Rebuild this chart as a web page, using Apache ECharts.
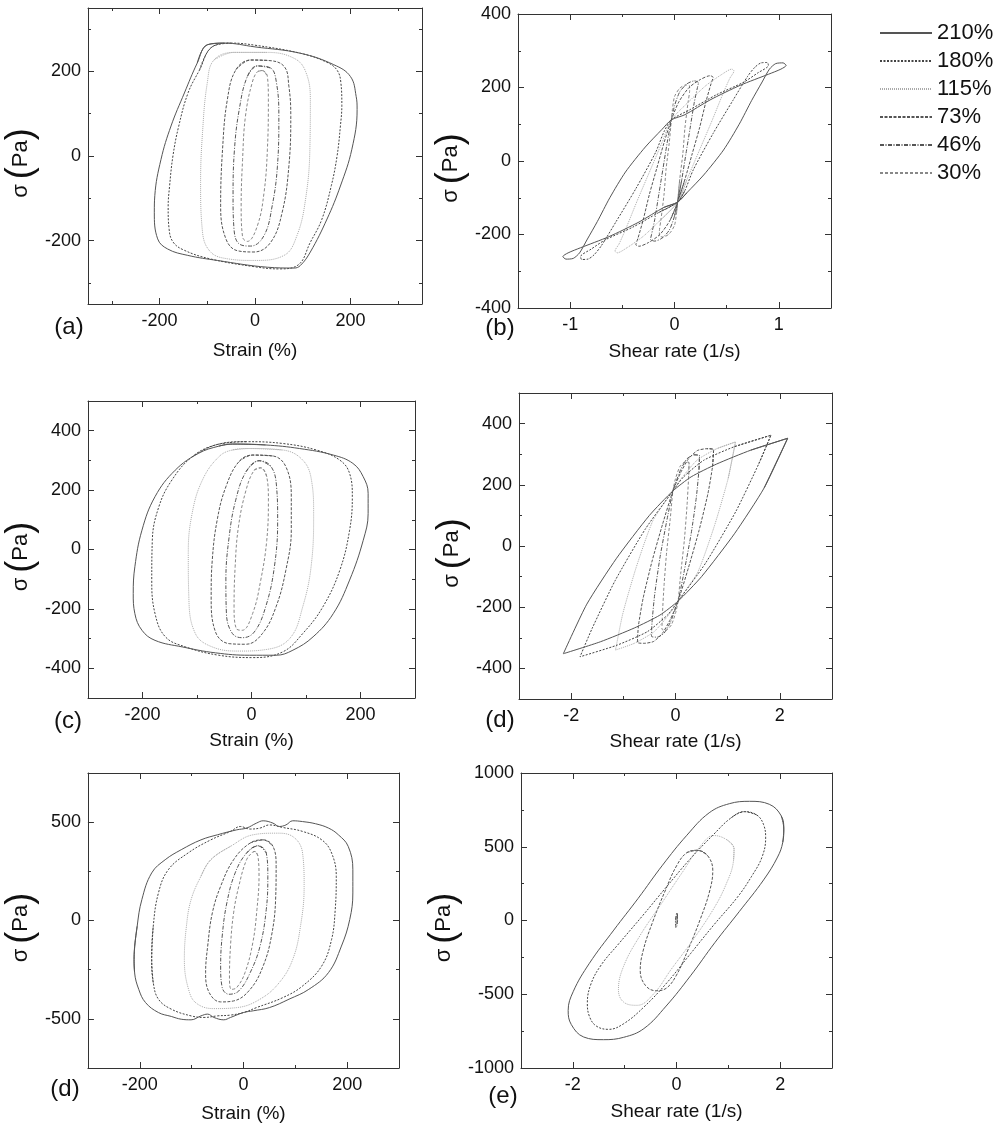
<!DOCTYPE html>
<html><head><meta charset="utf-8">
<script src="https://cdn.jsdelivr.net/npm/echarts@6/dist/echarts.min.js"></script>
<style>html,body{margin:0;padding:0;background:#fff}#c{width:1002px;height:1127px}</style>
</head><body><div id="c"></div>
<script>
const seriesNames = ['210%','180%','115%','73%','46%','30%'];
const panelLabels = ['(a)','(b)','(c)','(d)','(d)','(e)'];
const strainName = 'Strain (%)';
const rateName = 'Shear rate (1/s)';

// ---------- panel (a): strain vs stress ----------
const a210 = [[-100,263],[-65,267],[0,258],[95,243],[165,216],[200,188],[212,141],[214,110],[203,16],[179,-71],[151,-149],[116,-227],[95,-259],[82,-265],[26,-263],[-79,-247],[-141,-235],[-183,-220],[-204,-196],[-211,-133],[-210,-94],[-197,-8],[-176,71],[-148,149],[-121,220],[-100,263]];
const a180 = [[-90,258],[-50,267],[0,262],[95,243],[150,222],[172,203],[180,173],[182,120],[179,71],[172,0],[160,-70],[140,-150],[116,-204],[90,-258],[50,-267],[0,-262],[-95,-243],[-150,-222],[-172,-203],[-180,-173],[-182,-120],[-179,-71],[-172,0],[-160,70],[-140,150],[-116,204],[-90,258]];
const a115 = [[-44,245],[26,245],[82,231],[106,200],[116,133],[115,16],[106,-102],[88,-188],[61,-235],[-2,-247],[-58,-243],[-93,-227],[-110,-180],[-114,-63],[-110,55],[-100,173],[-86,227],[-44,245]];
const a73 = [[-9,227],[26,226],[61,212],[71,165],[75,94],[71,-24],[57,-133],[33,-204],[-2,-227],[-37,-224],[-61,-196],[-72,-118],[-68,16],[-58,133],[-40,204],[-9,227]];
const a46 = [[5,213],[33,208],[45,173],[50,94],[47,-24],[36,-118],[19,-188],[-9,-213],[-33,-208],[-44,-173],[-46,-94],[-43,16],[-33,110],[-16,188],[5,213]];
const a30 = [[15,202],[26,188],[28,133],[26,16],[19,-86],[5,-165],[-16,-202],[-26,-192],[-29,-118],[-26,-8],[-20,94],[-6,173],[6,200],[15,202]];

// ---------- panel (b): shear rate vs stress ----------
const b210 = [[0.03,-112],[0.12,-86],[0.28,-38],[0.47,30],[0.62,100],[0.74,165],[0.84,215],[0.91,250],[0.97,265],[1.04,267],[1.07,260],[1.02,250],[0.9,236],[0.63,206],[0.34,166],[0.1,126],[-0.03,112],[-0.12,86],[-0.28,38],[-0.47,-30],[-0.62,-100],[-0.74,-165],[-0.84,-215],[-0.91,-250],[-0.97,-265],[-1.04,-267],[-1.07,-260],[-1.02,-250],[-0.9,-236],[-0.63,-206],[-0.34,-166],[-0.1,-126],[0.03,-112]];
const b180 = [[0.03,-112],[0.1,-80],[0.18,-24],[0.37,75],[0.56,165],[0.7,230],[0.77,255],[0.83,267],[0.89,268],[0.9,260],[0.8,240],[0.66,214],[0.4,180],[0.15,140],[-0.03,112],[-0.1,80],[-0.18,24],[-0.37,-75],[-0.56,-165],[-0.7,-230],[-0.77,-255],[-0.83,-267],[-0.89,-268],[-0.9,-260],[-0.8,-240],[-0.66,-214],[-0.4,-180],[-0.15,-140],[0.03,-112]];
const b115 = [[0.03,-112],[0.12,-50],[0.24,30],[0.36,110],[0.46,180],[0.53,225],[0.57,245],[0.55,250],[0.45,235],[0.3,205],[0.15,165],[-0.03,112],[-0.12,50],[-0.24,-30],[-0.36,-110],[-0.46,-180],[-0.53,-225],[-0.57,-245],[-0.55,-250],[-0.45,-235],[-0.3,-205],[-0.15,-165],[0.03,-112]];
const b73 = [[0.03,-112],[0.1,-50],[0.17,20],[0.24,90],[0.3,160],[0.35,210],[0.37,228],[0.34,232],[0.25,222],[0.14,200],[0.04,160],[-0.03,112],[-0.1,50],[-0.17,-20],[-0.24,-90],[-0.3,-160],[-0.35,-210],[-0.37,-228],[-0.34,-232],[-0.25,-222],[-0.14,-200],[-0.04,-160],[0.03,-112]];
const b46 = [[0.03,-112],[0.07,-50],[0.11,20],[0.15,90],[0.19,160],[0.22,200],[0.23,213],[0.19,218],[0.12,210],[0.05,188],[0,150],[-0.03,112],[-0.07,50],[-0.11,-20],[-0.15,-90],[-0.19,-160],[-0.22,-200],[-0.23,-213],[-0.19,-218],[-0.12,-210],[-0.05,-188],[0,-150],[0.03,-112]];
const b30 = [[0.03,-112],[0.05,-50],[0.08,20],[0.1,90],[0.13,160],[0.145,192],[0.145,204],[0.11,207],[0.05,198],[0.0,175],[-0.02,140],[-0.03,112],[-0.05,50],[-0.08,-20],[-0.1,-90],[-0.13,-160],[-0.145,-192],[-0.145,-204],[-0.11,-207],[-0.05,-198],[0,-175],[0.02,-140],[0.03,-112]];

// ---------- panel (c): strain vs stress ----------
const c210 = [[-35,355],[26,352],[88,340],[150,318],[186,290],[205,245],[214,189],[214,121],[205,31],[180,-103],[150,-216],[113,-294],[76,-339],[45,-356],[-4,-356],[-66,-348],[-127,-328],[-177,-306],[-201,-272],[-214,-216],[-217,-148],[-214,-58],[-201,65],[-177,178],[-140,267],[-97,324],[-60,348],[-35,355]];
const c180 = [[-66,352],[-10,363],[57,357],[119,335],[162,301],[180,256],[185,178],[180,65],[162,-70],[131,-193],[94,-283],[57,-345],[2,-364],[-60,-356],[-121,-328],[-158,-294],[-177,-216],[-183,-103],[-182,31],[-170,144],[-146,234],[-109,312],[-66,352]];
const c115 = [[-4,340],[57,335],[94,301],[110,234],[114,121],[110,-47],[94,-193],[70,-300],[26,-337],[-23,-342],[-72,-328],[-103,-283],[-115,-160],[-116,-13],[-109,121],[-90,234],[-60,312],[-35,335],[-4,340]];
const c73 = [[2,318],[39,315],[63,279],[73,178],[73,65],[63,-70],[45,-193],[20,-283],[-10,-319],[-41,-317],[-66,-278],[-74,-160],[-72,-36],[-63,99],[-47,211],[-23,296],[2,318]];
const c46 = [[14,299],[36,279],[46,211],[48,99],[42,-58],[26,-193],[5,-278],[-17,-297],[-35,-283],[-46,-216],[-47,-103],[-41,43],[-29,166],[-10,262],[14,299]];
const c30 = [[17,275],[28,245],[31,166],[28,31],[17,-103],[2,-216],[-17,-272],[-28,-266],[-32,-193],[-30,-58],[-24,76],[-10,200],[5,267],[17,275]];

// ---------- panel (d) right: shear rate vs stress ----------
const dr210 = [[2.15,352],[1.44,313],[0.79,268],[0.3,226],[-0.05,180],[-0.5,100],[-1.13,-40],[-1.7,-190],[-2.15,-352],[-1.44,-313],[-0.79,-268],[-0.3,-226],[0.05,-180],[0.5,-100],[1.13,40],[1.7,190],[2.15,352]];
const dr180 = [[1.83,362],[1.12,324],[0.54,280],[0.15,225],[-0.05,180],[-0.58,55],[-1.16,-114],[-1.6,-270],[-1.83,-362],[-1.12,-324],[-0.54,-280],[-0.15,-225],[0.05,-180],[0.58,-55],[1.16,114],[1.6,270],[1.83,362]];
const dr115 = [[1.15,340],[0.79,318],[0.41,280],[0.08,214],[-0.05,180],[-0.43,84],[-0.75,-68],[-1.01,-221],[-1.15,-340],[-0.79,-318],[-0.41,-280],[-0.08,-214],[0.05,-180],[0.43,-84],[0.75,68],[1.01,221],[1.15,340]];
const dr73 = [[0.73,315],[0.6,318],[0.42,312],[0.25,285],[0.1,240],[-0.05,180],[-0.25,70],[-0.45,-50],[-0.62,-170],[-0.71,-260],[-0.73,-315],[-0.6,-318],[-0.42,-312],[-0.25,-285],[-0.1,-240],[0.05,-180],[0.25,-70],[0.45,50],[0.62,170],[0.71,260],[0.73,315]];
const dr46 = [[0.46,295],[0.35,298],[0.22,285],[0.1,250],[0,205],[-0.05,180],[-0.17,80],[-0.3,-40],[-0.4,-160],[-0.45,-250],[-0.46,-295],[-0.35,-298],[-0.22,-285],[-0.1,-250],[0,-205],[0.05,-180],[0.17,-80],[0.3,40],[0.4,160],[0.45,250],[0.46,295]];
const dr30 = [[0.26,272],[0.18,275],[0.08,258],[0,220],[-0.05,180],[-0.1,90],[-0.17,-20],[-0.22,-130],[-0.25,-220],[-0.26,-272],[-0.18,-275],[-0.08,-258],[0,-220],[0.05,-180],[0.1,-90],[0.17,20],[0.22,130],[0.25,220],[0.26,272]];

// ---------- panel (d) left: strain vs stress ----------
const dl210 = [[-211,-198],[-205,-29],[-196,106],[-177,242],[-151,309],[-120,360],[-82,410],[-50,436],[-13,461],[6,470],[25,495],[38,507],[57,495],[69,478],[82,486],[95,507],[114,503],[139,492],[164,470],[183,436],[202,377],[211,258],[211,140],[205,5],[189,-130],[164,-265],[126,-350],[88,-400],[50,-443],[19,-459],[0,-468],[-25,-493],[-38,-505],[-57,-493],[-69,-476],[-82,-485],[-101,-505],[-120,-502],[-139,-488],[-164,-468],[-189,-417],[-202,-350],[-210,-265],[-211,-198]];
const dl180 = [[-177,-198],[-174,-29],[-164,140],[-145,258],[-107,343],[-63,410],[-25,453],[-6,478],[13,465],[32,470],[50,486],[76,473],[114,453],[151,410],[170,343],[179,225],[177,56],[170,-96],[151,-231],[114,-333],[76,-392],[25,-443],[0,-468],[-25,-481],[-50,-485],[-76,-493],[-101,-485],[-139,-451],[-164,-400],[-174,-316],[-177,-198]];
const dl115 = [[-63,309],[-25,377],[19,436],[63,444],[95,427],[114,343],[117,174],[110,-29],[95,-198],[69,-316],[32,-400],[-13,-443],[-57,-448],[-88,-426],[-104,-367],[-114,-198],[-110,-29],[-101,106],[-82,225],[-63,309]];
const dl73 = [[38,410],[57,377],[63,275],[62,106],[54,-79],[38,-231],[13,-350],[-19,-409],[-44,-414],[-66,-367],[-73,-265],[-69,-130],[-60,39],[-44,174],[-19,309],[13,394],[38,410]];
const dl46 = [[28,380],[44,343],[47,225],[44,56],[32,-130],[13,-265],[-9,-358],[-28,-375],[-41,-341],[-44,-231],[-41,-79],[-32,90],[-16,242],[6,343],[28,380]];
const dl30 = [[22,351],[28,326],[30,225],[26,56],[18,-113],[3,-265],[-13,-341],[-23,-350],[-27,-299],[-25,-130],[-19,39],[-9,174],[6,309],[18,348],[22,351]];

// ---------- panel (e): shear rate vs stress ----------
const e210 = [[2.07,620],[2.05,530],[1.95,430],[1.68,275],[1.21,60],[0.74,-150],[0.27,-375],[-0.2,-580],[-0.63,-733],[-1.02,-792],[-1.41,-808],[-1.79,-790],[-2.03,-705],[-2.09,-610],[-1.99,-480],[-1.68,-290],[-1.21,-65],[-0.74,150],[-0.27,375],[0.2,578],[0.63,730],[1.02,792],[1.41,808],[1.79,788],[2.02,710],[2.07,620]];
const e180 = [[1.31,738],[1.55,715],[1.68,650],[1.72,560],[1.65,430],[1.45,300],[1.18,160],[0.72,-30],[0.27,-225],[-0.18,-420],[-0.63,-587],[-1.02,-700],[-1.31,-738],[-1.55,-715],[-1.68,-650],[-1.72,-560],[-1.65,-430],[-1.45,-300],[-1.12,-160],[-0.66,30],[-0.2,225],[0.27,420],[0.72,585],[1.05,695],[1.31,738]];
const e115 = [[1.11,485],[1.1,406],[0.95,240],[0.7,70],[0.3,-140],[-0.1,-330],[-0.44,-497],[-0.76,-575],[-1.02,-553],[-1.12,-470],[-1.02,-310],[-0.7,-100],[-0.3,110],[0.1,320],[0.47,508],[0.72,576],[0.98,545],[1.11,485]];
const e73 = [[0.4,476],[0.6,440],[0.7,340],[0.64,200],[0.46,10],[0.22,-200],[0,-370],[-0.2,-460],[-0.4,-476],[-0.6,-440],[-0.7,-340],[-0.64,-200],[-0.46,-10],[-0.22,200],[0,370],[0.2,460],[0.4,476]];
const e46 = [[0.01,50],[0.02,0],[0,-45],[-0.01,-50],[-0.02,0],[0,45],[0.01,50]];
const e30 = [[0.005,30],[0.01,0],[-0.005,-30],[-0.01,0],[0.005,30]];

// ---------- tick values ----------
const aXMaj=[-200,0,200], aXMin=[-300,-100,100,300], aYMaj=[-200,0,200], aYMin=[-300,-100,100,300];
const bXMaj=[-1,0,1], bXMin=[-0.5,0.5], bYMaj=[-400,-200,0,200,400], bYMin=[-300,-100,100,300];
const cXMaj=[-200,0,200], cXMin=[-100,100], cYMaj=[-400,-200,0,200,400], cYMin=[-300,-100,100,300];
const drXMaj=[-2,0,2], drXMin=[-1,1], drYMaj=[-400,-200,0,200,400], drYMin=[-300,-100,100,300];
const dlXMaj=[-200,0,200], dlXMin=[-100,100], dlYMaj=[-500,0,500], dlYMin=[-250,250];
const eXMaj=[-2,0,2], eXMin=[-1,1], eYMaj=[-1000,-500,0,500,1000], eYMin=[-750,-250,250,750];

const FONT = '"Liberation Sans", Arial, sans-serif';
const styles = [
  {color:'#555', type:'solid', width:1},
  {color:'#444', type:[2,1.5], width:1},
  {color:'#aaa', type:[1,1], width:1},
  {color:'#555', type:[3,1.5], width:1},
  {color:'#555', type:[4,1.5,1,1.5], width:1},
  {color:'#888', type:[3,2], width:1}
];

const panels = [
  {g:[88,8,334,296], xr:[-350,350], yr:[-350,350], t:[aXMaj,aXMin,aYMaj,aYMin], xn:strainName, xg:37, yg:40, d:[a210,a180,a115,a73,a46,a30], lp:[69,327], sm:0.4},
  {g:[518,14,313,294], xr:[-1.5,1.5], yr:[-400,400], t:[bXMaj,bXMin,bYMaj,bYMin], xn:rateName, xg:34, yg:28, d:[b210,b180,b115,b73,b46,b30], lp:[500,328], sm:0.25},
  {g:[88,401,327,297], xr:[-300,300], yr:[-500,500], t:[cXMaj,cXMin,cYMaj,cYMin], xn:strainName, xg:33, yg:40, d:[c210,c180,c115,c73,c46,c30], lp:[68,721], sm:0.4},
  {g:[519,393,313,306], xr:[-3,3], yr:[-500,500], t:[drXMaj,drXMin,drYMaj,drYMin], xn:rateName, xg:33, yg:31, d:[dr210,dr180,dr115,dr73,dr46,dr30], lp:[500,720], sm:0.2},
  {g:[82,773,317,295], xr:[-300,300], yr:[-750,750], t:[dlXMaj,dlXMin,dlYMaj,dlYMin], xn:strainName, xg:36, yg:25, d:[dl210,dl180,dl115,dl73,dl46,dl30], lp:[65,1089], sm:0.4},
  {g:[521,773,311,295], xr:[-3,3], yr:[-1000,1000], t:[eXMaj,eXMin,eYMaj,eYMin], xn:rateName, xg:34, yg:31, d:[e210,e180,e115,e73,e46,e30], lp:[503,1096], sm:0.4}
];

function closeLoop(arr){ const n=arr.length; return [arr[n-2]].concat(arr, [arr[1]]); }
const plain = v => String(v);

const option = {animation:false, backgroundColor:'#fff', grid:[], xAxis:[], yAxis:[], series:[], graphic:[],
  legend:{orient:'vertical', left:874, top:17, itemWidth:52, itemHeight:12, itemGap:6, selectedMode:false,
    itemStyle:{color:'rgba(0,0,0,0)', borderColor:'rgba(0,0,0,0)', borderWidth:0, opacity:0},
    textStyle:{fontSize:22, lineHeight:22, color:'#111', fontFamily:FONT}, data:seriesNames}
};

panels.forEach((p,pi)=>{
  option.grid.push({left:p.g[0], top:p.g[1], width:p.g[2], height:p.g[3], show:false});
  const mk = (rng, position, vals, len, line) => ({
    type:'value', gridIndex:pi, position, min:rng[0], max:rng[1],
    axisLine:{show:line, onZero:false, lineStyle:{color:'#333', width:1}},
    axisTick:{show:true, inside:true, length:len, customValues:vals, lineStyle:{color:'#333', width:1}},
    axisLabel:{show:false}, splitLine:{show:false}
  });
  const xi = option.xAxis.length, yi = option.yAxis.length;
  const xMain = mk(p.xr,'bottom',p.t[0],6,true);
  xMain.axisLabel = {show:true, customValues:p.t[0], formatter:plain, fontSize:18, color:'#111', fontFamily:FONT, margin:8};
  xMain.name = p.xn; xMain.nameLocation='middle'; xMain.nameGap=p.xg;
  xMain.nameTextStyle = {fontSize:19, color:'#111', fontFamily:FONT};
  option.xAxis.push(xMain, mk(p.xr,'bottom',p.t[1],3,false), mk(p.xr,'top',p.t[0],6,true), mk(p.xr,'top',p.t[1],3,false));
  const yMain = mk(p.yr,'left',p.t[2],6,true);
  yMain.axisLabel = {show:true, customValues:p.t[2], formatter:plain, fontSize:18, color:'#111', fontFamily:FONT, margin:7};
  yMain.name = '{s|σ} {p|(}{t|Pa}{p|)}'; yMain.nameLocation='middle'; yMain.nameGap=p.yg; yMain.nameRotate=90;
  yMain.nameTextStyle = {color:'#111', fontFamily:FONT, fontSize:18, lineHeight:40, padding:[0,14,0,0], rich:{
    s:{fontSize:22, lineHeight:40, fontFamily:FONT, color:'#111'},
    p:{fontSize:36, lineHeight:40, fontFamily:FONT, color:'#111'},
    t:{fontSize:22, lineHeight:40, fontFamily:FONT, color:'#111'}}};
  option.yAxis.push(yMain, mk(p.yr,'left',p.t[3],3,false), mk(p.yr,'right',p.t[2],6,true), mk(p.yr,'right',p.t[3],3,false));
  p.d.forEach((arr,si)=>{
    option.series.push({type:'line', name:seriesNames[si], xAxisIndex:xi, yAxisIndex:yi, data:closeLoop(arr),
      smooth:p.sm, symbol:'none', showSymbol:false, lineStyle:styles[si], itemStyle:{color:styles[si].color}, z:10-si, silent:true});
  });
  option.graphic.push({type:'text', x:p.lp[0], y:p.lp[1], style:{text:panelLabels[pi], fontSize:24, fontFamily:FONT, fill:'#111', align:'center', verticalAlign:'middle', textAlign:'center', textVerticalAlign:'middle'}});
});

const chart = echarts.init(document.getElementById('c'), null, {renderer:'canvas'});
chart.setOption(option);
</script></body></html>
